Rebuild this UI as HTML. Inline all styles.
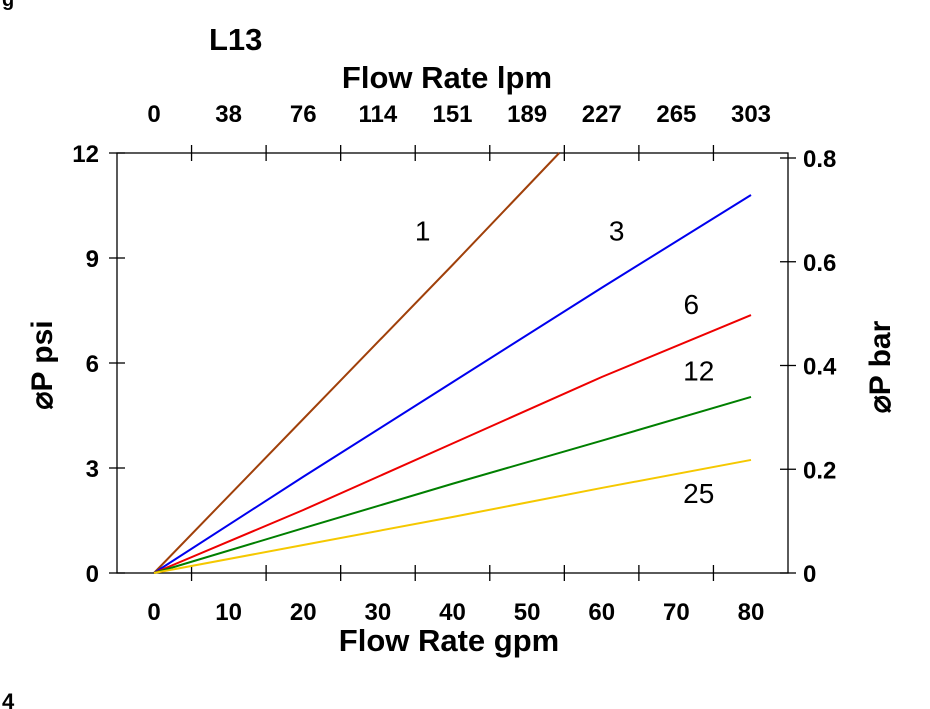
<!DOCTYPE html>
<html><head><meta charset="utf-8"><style>
body{margin:0;background:#fff;}
svg{display:block;font-family:"Liberation Sans",Arial,sans-serif;}
.b{font-weight:bold;}
</style></head><body>
<svg width="930" height="709" viewBox="0 0 930 709">
<g id="axes"></g>
<g id="series"></g>
<g id="labels"></g>
<text x="2" y="6" font-size="20" class="b">g</text>
<text x="2" y="709" font-size="22" class="b">4</text>
<text x="209" y="50" font-size="31" class="b">L13</text>
<text x="447" y="88" font-size="31" class="b" text-anchor="middle">Flow Rate lpm</text>
<text x="449" y="651" font-size="31" class="b" text-anchor="middle">Flow Rate gpm</text>
<text transform="translate(52,365) rotate(-90)" font-size="30" class="b" text-anchor="middle">⌀P psi</text>
<text transform="translate(890,367) rotate(-90)" font-size="30" class="b" text-anchor="middle">⌀P bar</text>
</svg>
<script>
const xTicks=[0,10,20,30,40,50,60,70,80];
const lpmTicks=["0","38","76","114","151","189","227","265","303"];
const psiTicks=[0,3,6,9,12];
const barTicks=[0,0.2,0.4,0.6,0.8];
const seriesNames=["1","3","6","12","25"];
const seriesColors=["#a0400a","#0000ee","#ee0000","#007f00","#f5c800"];
const gpm1=[0,20,40,54.3];
const psi1=[0,4.4,8.8,12];
const gpm=[0,20,40,60,80];
const psi3=[0,2.75,5.45,8.15,10.8];
const psi6=[0,1.8,3.7,5.6,7.37];
const psi12=[0,1.28,2.55,3.78,5.03];
const psi25=[0,0.8,1.6,2.43,3.23];
const labelPos=[[36,9.5],[62,9.5],[72,7.4],[73,5.5],[73,2.0]];
const NS="http://www.w3.org/2000/svg";
const X=v=>154+v*(751-154)/80;
const Y=v=>573-v*(420/12);
const YB=v=>573-v*(415/0.8);
function mk(t,a,p){const e=document.createElementNS(NS,t);for(const k in a)e.setAttribute(k,a[k]);p.appendChild(e);return e;}
const ax=document.getElementById('axes');
let r=mk('rect',{x:117,y:153,width:671,height:420,fill:'none',stroke:'#000','stroke-width':1.3},ax);


for(let k=1;k<9;k++){const x=117+k*671/9;
 let t=mk('line',{x1:x,x2:x,y1:565,y2:581,stroke:'#000','stroke-width':1.3},ax);
 
 
 let t2=mk('line',{x1:x,x2:x,y1:145,y2:161,stroke:'#000','stroke-width':1.3},ax);
 
 }
xTicks.forEach((v,i)=>{
 let t=mk('text',{x:X(v),y:620,'font-size':24,'text-anchor':'middle','font-weight':'bold'},ax);t.textContent=v;
 
 
 let u=mk('text',{x:X(v),y:122,'font-size':24,'text-anchor':'middle','font-weight':'bold'},ax);u.textContent=lpmTicks[i];
 
 });
psiTicks.forEach(v=>{
 let l=mk('line',{x1:109,x2:125,y1:Y(v),y2:Y(v),stroke:'#000','stroke-width':1.3},ax);
 
 
 let t=mk('text',{x:99,y:Y(v)+9,'font-size':24,'text-anchor':'end','font-weight':'bold'},ax);t.textContent=v;
 
 });
barTicks.forEach(v=>{
 let l=mk('line',{x1:780,x2:796,y1:YB(v),y2:YB(v),stroke:'#000','stroke-width':1.3},ax);
 
 
 let t=mk('text',{x:803,y:YB(v)+9,'font-size':24,'font-weight':'bold'},ax);t.textContent=v===0?'0':v.toFixed(1);
 
 });
const sg=document.getElementById('series');
const all=[[gpm1,psi1],[gpm,psi3],[gpm,psi6],[gpm,psi12],[gpm,psi25]];
all.forEach((s,i)=>{
 const pts=s[0].map((g,j)=>X(g)+','+Y(s[1][j])).join(' ');
 let p=mk('polyline',{points:pts,fill:'none',stroke:seriesColors[i],'stroke-width':2},sg);
 
 
 let t=mk('text',{x:X(labelPos[i][0]),y:Y(labelPos[i][1]),'font-size':28,'text-anchor':'middle'},document.getElementById('labels'));
 t.textContent=seriesNames[i];
 
 
});
</script>
</body></html>
